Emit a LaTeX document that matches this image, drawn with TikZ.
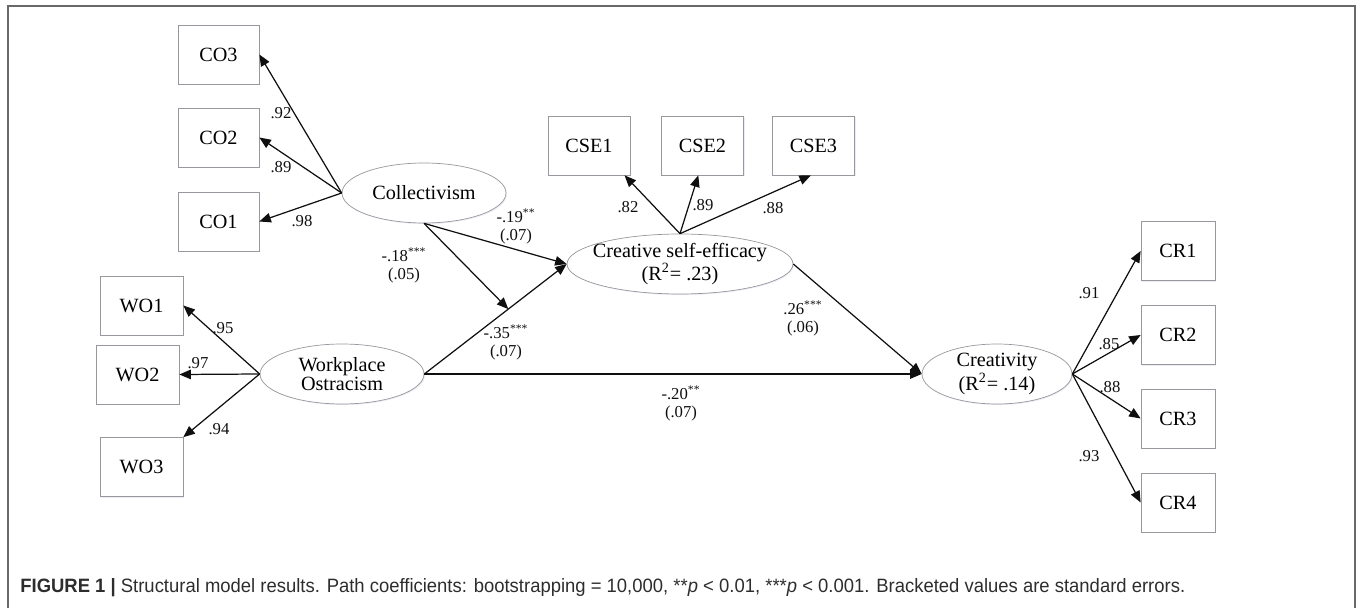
\documentclass[tikz,border=0pt]{standalone}
\usepackage{fontspec}
\setmainfont{Liberation Serif}
\newfontfamily\capfont{Liberation Sans}
\usepackage{graphicx}
\usetikzlibrary{arrows.meta,shapes.geometric,shadows}
\definecolor{rim}{RGB}{150,152,158}
\definecolor{ink}{RGB}{15,15,15}
\definecolor{edge}{RGB}{105,105,105}
\definecolor{captxt}{RGB}{45,45,45}
\tikzset{
  box/.style={draw=rim, thin, fill=white, minimum width=1.64cm, minimum height=1.18cm,
              inner sep=1pt, font=\fontsize{11.5}{12}\selectfont,
              drop shadow={shadow xshift=0.6pt, shadow yshift=-0.6pt, fill=blue!30!black!12, opacity=0.6}},
  latent/.style={ellipse, draw=rim, thin, fill=white, minimum height=1.2cm,
              inner xsep=-5pt, inner ysep=-1pt,
              align=center, font=\fontsize{11.5}{11}\selectfont,
              drop shadow={shadow xshift=0.6pt, shadow yshift=-0.6pt, fill=blue!30!black!12, opacity=0.6}},
  flow/.style={-{Triangle[length=2.3mm,width=1.9mm]}, ink, line width=0.7pt},
  coef/.style={font=\fontsize{9.5}{9.8}\selectfont, align=center, inner sep=0pt, text=ink},
}

\begin{document}
\begin{tikzpicture}[x=0.02cm,y=-0.02cm]
    \useasboundingbox (0,0) rectangle (1357,608);
    \draw[edge, line width=0.9pt] (8,608) -- (8,6) -- (1355,6) -- (1355,608);
    % --- latent variables ---
    \node[latent, minimum width=3.28cm] (coll) at (424,193) {Collectivism};
    \node[latent, minimum width=3.28cm] (wo)   at (342,374) {Workplace\\Ostracism};
    \node[latent, minimum width=4.52cm] (cse)  at (680,264) {Creative self-efficacy\\(R\textsuperscript{2}= .23)};
    \node[latent, minimum width=3.0cm]  (crea) at (997,374) {Creativity\\(R\textsuperscript{2}= .14)};
    % --- indicators ---
    \node[box, minimum width=1.62cm] (co3) at (218.5,54.5)  {CO3};
    \node[box, minimum width=1.62cm] (co2) at (218.5,137.5) {CO2};
    \node[box, minimum width=1.62cm] (co1) at (218.5,221.5) {CO1};
    \node[box, minimum width=1.66cm] (wo1) at (141.5,305.5) {WO1};
    \node[box, minimum width=1.66cm] (wo2) at (137.5,374.5) {WO2};
    \node[box, minimum width=1.66cm] (wo3) at (141.5,467)   {WO3};
    \node[box] (cse1) at (589,145.5)   {CSE1};
    \node[box] (cse2) at (702.5,145.5) {CSE2};
    \node[box] (cse3) at (813.5,145.5) {CSE3};
    \node[box, minimum width=1.48cm] (cr1) at (1178,251)   {CR1};
    \node[box, minimum width=1.48cm] (cr2) at (1178,335)   {CR2};
    \node[box, minimum width=1.48cm] (cr3) at (1178,418.5) {CR3};
    \node[box, minimum width=1.48cm] (cr4) at (1178,502.5) {CR4};
    % --- loadings ---
    \draw[flow] (coll.west) -- (co3.east);
    \draw[flow] (coll.west) -- (co2.east);
    \draw[flow] (coll.west) -- (co1.east);
    \draw[flow] (wo.west) -- (wo1.east);
    \draw[flow] (wo.west) -- (wo2.east);
    \draw[flow] (wo.west) -- (wo3.north east);
    \draw[flow] (cse.north) -- (cse1.-40);
    \draw[flow] (cse.north) -- (cse2.-98);
    \draw[flow] (cse.north) -- (cse3.-95);
    \draw[flow] (crea.east) -- (cr1.west);
    \draw[flow] (crea.east) -- (cr2.west);
    \draw[flow] (crea.east) -- (cr3.west);
    \draw[flow] (crea.east) -- (cr4.west);
    % --- structural paths ---
    \draw[flow] (wo.east) -- coordinate[pos=0.59] (mod) (cse.west);
    \draw[flow] (coll.south) -- (cse.west);
    \draw[flow] (coll.south) -- (mod);
    \draw[flow] (wo.east) -- (crea.west);
    \draw[flow] (cse.east) -- (crea.west);
    % --- coefficients ---
    \node[coef] at (281,113) {.92};
    \node[coef] at (281,167) {.89};
    \node[coef] at (302,221) {.98};
    \node[coef] at (223,328) {.95};
    \node[coef] at (198,363) {.97};
    \node[coef] at (219,429) {.94};
    \node[coef] at (628,207) {.82};
    \node[coef] at (703,205) {.89};
    \node[coef] at (773,208) {.88};
    \node[coef] at (1089,293) {.91};
    \node[coef] at (1109,344) {.85};
    \node[coef] at (1110,387) {.88};
    \node[coef] at (1089,456) {.93};
    \node[coef] at (404,265) {-.18\textsuperscript{***}\\(.05)};
    \node[coef] at (516,226) {-.19\textsuperscript{**}\\(.07)};
    \node[coef] at (506,342) {-.35\textsuperscript{***}\\(.07)};
    \node[coef] at (803,318) {.26\textsuperscript{***}\\(.06)};
    \node[coef] at (681,403) {-.20\textsuperscript{**}\\(.07)};
    % --- caption ---
    \node[anchor=west, inner sep=0pt, text=captxt] (cap) at (20,588)
      {\resizebox{23.3cm}{\height}{\capfont\fontsize{11}{13}\selectfont\textbf{FIGURE 1 |} Structural model results. Path coefficients: bootstrapping = 10,000, **\textit{p} {<} 0.01, ***\textit{p} {<} 0.001. Bracketed values are standard errors.}};
\end{tikzpicture}
\end{document}
